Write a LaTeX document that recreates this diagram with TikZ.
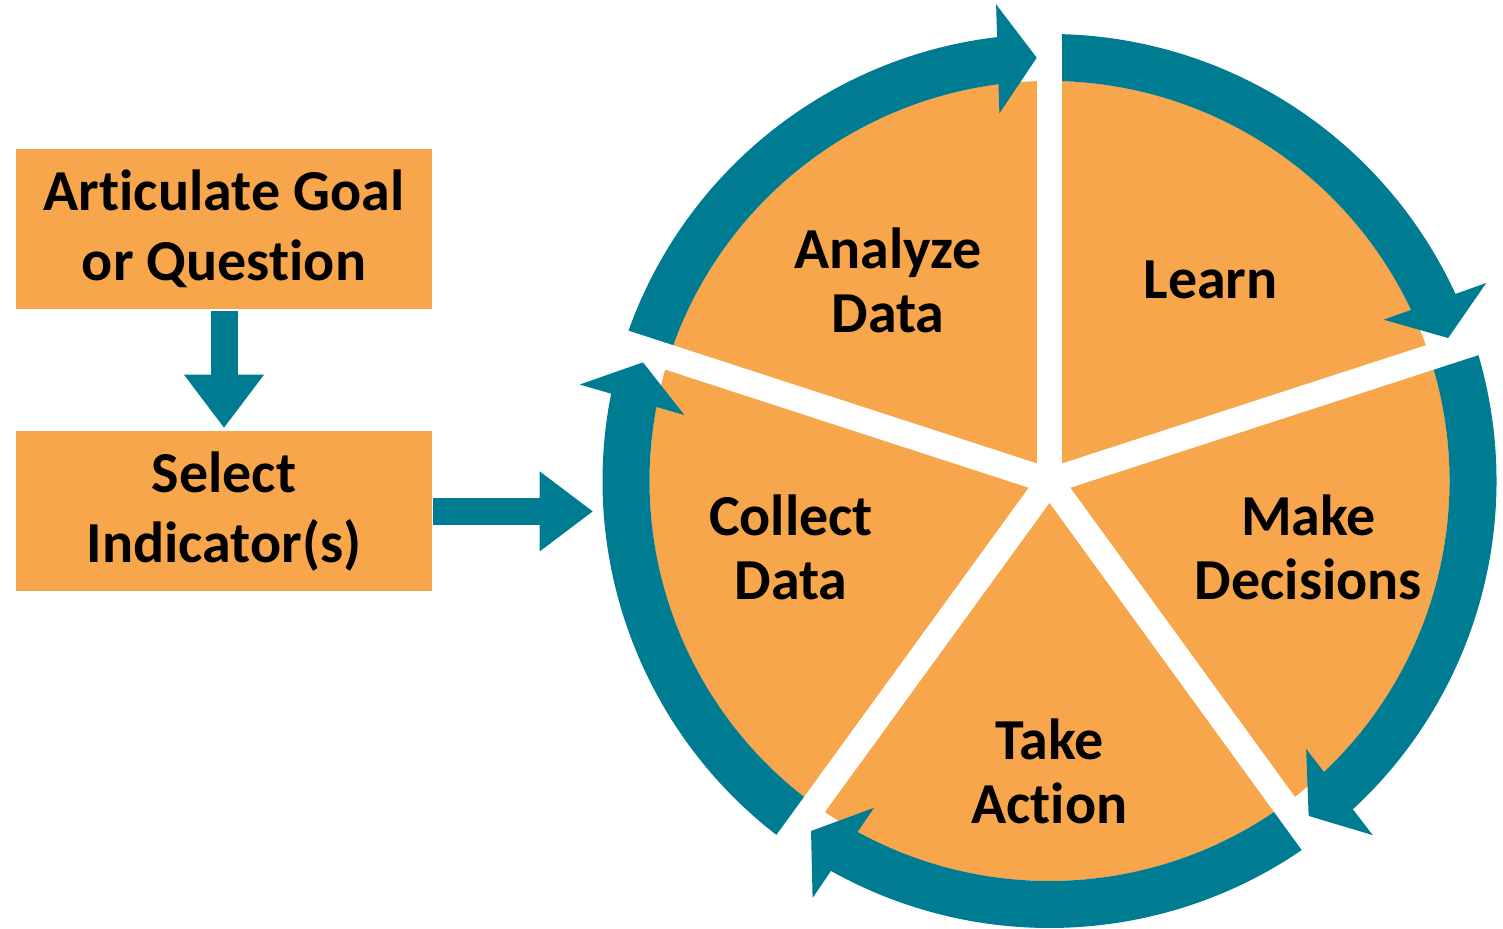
\documentclass[tikz,border=0pt]{standalone}
\usepackage{fontspec}
\setmainfont{Carlito}[RawFeature={-liga}]
\usepackage{tikz}
\usetikzlibrary{positioning}
\usetikzlibrary{arrows.meta}
\usetikzlibrary{calc}

\definecolor{cycleorange}{RGB}{247,166,76}
\definecolor{cycleteal}{RGB}{0,124,146}

\begin{document}
\begin{tikzpicture}[x=0.1mm, y=0.1mm,
                          stepbox/.style={rectangle, fill=cycleorange, minimum width=41.6mm, minimum height=16mm, inner sep=0pt, align=center, font=\fontsize{16.5}{19.9}\selectfont\bfseries},
                          wedgelabel/.style={inner sep=0pt, align=center, font=\fontsize{16.5}{18.2}\selectfont\bfseries},
                          flowarrow/.style={draw=cycleteal, line width=2.7mm, -{Triangle[width=8mm, length=5.3mm, line width=0pt]}},
                          gapline/.style={draw=white, line width=2.56mm},
                      ]
                      \useasboundingbox (0,0) rectangle (1503,929);

                      %Boxes
                      \node[stepbox]    (goal)    at (224,700)                {Articulate Goal\\or Question};
                      \node[stepbox]    (select)  [below=12.1mm of goal]      {Select\\Indicator(s)};
                      \coordinate[right=16mm of select] (cyclein);

                      %Cycle
                      \coordinate (hub) at (1049.5,448);
                      \fill[cycleorange] (hub) circle (400);
                      \foreach \tail/\tip in {234/163.73, 162/91.73, 90/19.73, 18/-52.27, -54/-124.27}{
                        \fill[cycleteal] ($(hub)+(\tail:447)$) arc[start angle=\tail, end angle={\tip+5}, radius=447]
                          -- ($(hub)+(\tip:423.5)+({\tip+90}:39)+(\tip:23.5)$)
                          -- ($(hub)+(\tip:423.5)+({\tip+90}:39)+(\tip:54.5)$)
                          -- ($(hub)+(\tip:423.5)$)
                          -- ($(hub)+(\tip:423.5)+({\tip+90}:39)-(\tip:54.5)$)
                          -- ($(hub)+(\tip:423.5)+({\tip+90}:39)-(\tip:23.5)$)
                          -- ($(hub)+({\tip+5.6}:400)$) arc[start angle={\tip+5.6}, end angle=\tail, radius=400] -- cycle;
                      }
                      \foreach \a in {162,90,18,-54,-126}
                        \draw[gapline] (hub) -- ($(hub)+(\a:460)$);

                      %Labels
                      \node[wedgelabel] (collect)   at (791,382)     {Collect\\Data};
                      \node[wedgelabel] (analyze)   at (888,649)     {Analyze\\Data};
                      \node[wedgelabel] (learn)     at (1210.5,649)  {Learn};
                      \node[wedgelabel] (decide)    at (1308.5,382)  {Make\\Decisions};
                      \node[wedgelabel] (act)       at (1049.5,158)  {Take\\Action};

                      %Lines
                      \draw[flowarrow, shorten <=0.1mm, shorten >=0.3mm] (goal.south) -- (select.north);
                      \draw[flowarrow] (select.east) -- (cyclein);
                  \end{tikzpicture}
\end{document}
